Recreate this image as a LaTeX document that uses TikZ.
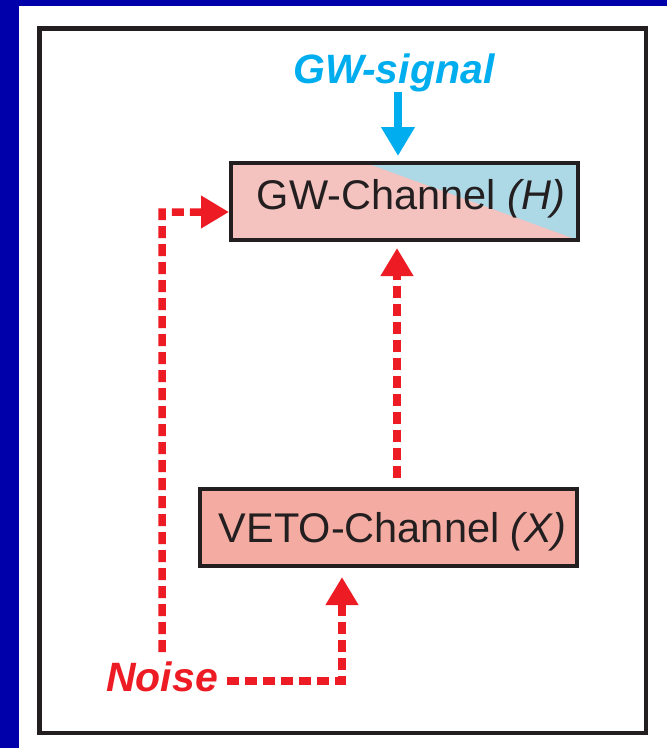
\documentclass[tikz,border=0pt]{standalone}
\usepackage{fontspec}
\setmainfont{Liberation Sans}
\usetikzlibrary{arrows.meta}
\definecolor{slideblue}{RGB}{0,0,170}
\definecolor{framegray}{RGB}{35,31,32}
\definecolor{gwpink}{RGB}{244,195,191}
\definecolor{gwblue}{RGB}{173,216,230}
\definecolor{vetofill}{RGB}{244,171,162}
\definecolor{noisered}{RGB}{237,28,36}
\definecolor{sigcyan}{RGB}{0,174,239}
\tikzset{
  chanbox/.style={draw=framegray, line width=4pt, inner sep=0pt, text=framegray,
    font=\fontsize{41.5}{48}\selectfont},
  noisearrow/.style={draw=noisered, line width=7.5pt, dash pattern=on 12pt off 6pt,
    -{Triangle[length=28pt,width=31pt]}},
  sigarrow/.style={draw=sigcyan, line width=8pt, -{Triangle[length=29pt,width=32pt]}},
  biglabel/.style={inner sep=0pt, anchor=base west, font=\fontsize{41}{48}\selectfont\bfseries\itshape}
}
\begin{document}
\begin{tikzpicture}[x=1pt,y=-1pt]
\useasboundingbox (0,0) rectangle (667,748);
\fill[white] (0,0) rectangle (667,748);
\fill[slideblue] (0,0) rectangle (19,748);
\fill[slideblue] (0,0) rectangle (667,5.5);
\draw[framegray, line width=4.5pt] (39.5,28.5) rectangle (646,733);

% boxes
\node[chanbox, minimum width=347pt, minimum height=77pt, text height=25pt, text depth=10pt,
  fill=gwpink,
  path picture={\fill[gwblue] ([xshift=-38.5pt]path picture bounding box.north)
     -- (path picture bounding box.north east)
     -- (path picture bounding box.south east) -- cycle;}]
  (gw) at (404.5,201.5) {\hspace{13pt}GW-Channel \textit{(H)}};
\node[chanbox, minimum width=377pt, minimum height=77pt, text height=35pt, text depth=6pt,
  fill=vetofill]
  (veto) at (388.5,527.5) {\hspace{8pt}VETO-Channel \textit{(X)}};

% labels
\node[biglabel, text=sigcyan] (sig) at (293,83) {GW-signal};
\node[biglabel, text=noisered] (noise) at (106,691) {Noise};

% coordinates
\coordinate (sigtop) at (398,92);
\coordinate (midx) at (397,0);
\coordinate (corner) at (342,681);
\coordinate (leftup) at (162,212);

% arrows
\draw[sigarrow, shorten >=5pt] (sigtop) -- (gw.north -| sigtop);
\draw[noisearrow, shorten <=9pt, shorten >=6pt] (veto.north -| midx) -- (gw.south -| midx);
\draw[noisearrow, shorten <=9pt, shorten >=9pt] (noise.east |- corner) -- (corner) -- (veto.south -| corner);
\draw[noisearrow, shorten <=9pt] (noise.north) -- (leftup) -- (gw.west |- leftup);
\end{tikzpicture}
\end{document}
